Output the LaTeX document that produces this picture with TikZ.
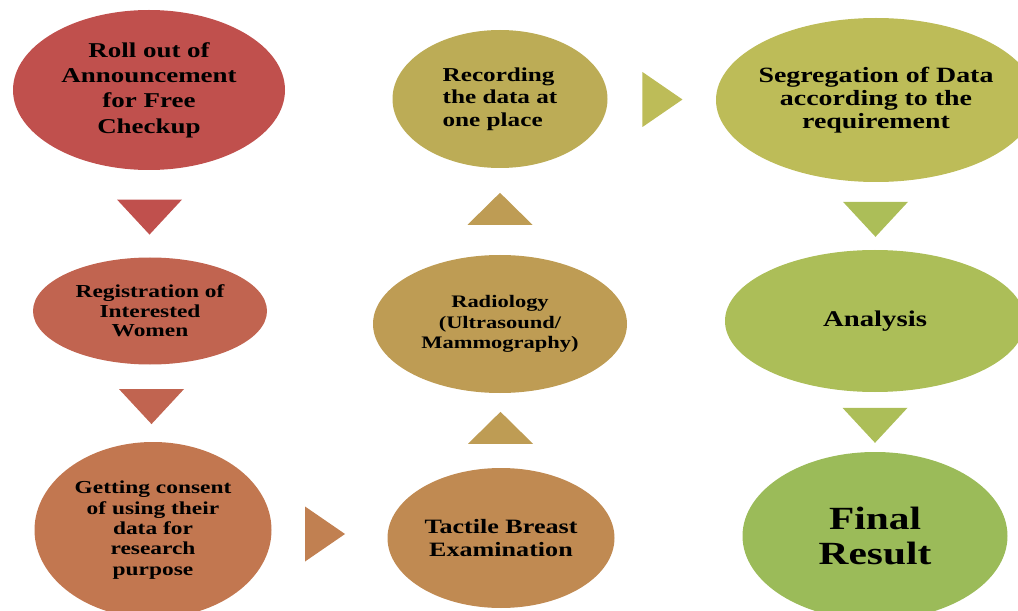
\documentclass[tikz,border=0pt]{standalone}
\usepackage{fontspec}
\setmainfont{Liberation Serif}
\newfontfamily\boxfont[FakeStretch=1.28]{Liberation Serif}
\usepackage{tikz}
\usetikzlibrary{shapes.geometric,calc}
% colour steps from red to green
\definecolor{stepA}{RGB}{192,80,77}
\definecolor{stepB}{RGB}{193,100,80}
\definecolor{stepC}{RGB}{194,119,80}
\definecolor{stepD}{RGB}{192,138,82}
\definecolor{stepE}{RGB}{190,156,84}
\definecolor{stepF}{RGB}{188,172,86}
\definecolor{stepG}{RGB}{189,188,88}
\definecolor{stepH}{RGB}{172,190,88}
\definecolor{stepI}{RGB}{155,187,89}
\tikzset{
  stepnode/.style={ellipse, align=center, text=black, inner xsep=-1.5cm, inner ysep=-0.5cm},
  chevdown/.style={isosceles triangle, isosceles triangle stretches, shape border rotate=-90,
                   inner sep=0pt, minimum width=1.625cm, minimum height=0.875cm},
  chevup/.style={chevdown, shape border rotate=90, minimum height=0.8cm},
  chevright/.style={isosceles triangle, isosceles triangle stretches, shape border rotate=0,
                    inner sep=0pt, minimum width=1.375cm, minimum height=1.0cm},
}
\newcommand{\sz}[2]{\boxfont\bfseries\fontsize{#1}{#2}\selectfont}

\begin{document}
\begin{tikzpicture}
    \useasboundingbox (0,0) rectangle (25.45,-15.275);
    % first column
    \node[stepnode, fill=stepA, minimum width=6.8cm, minimum height=4cm, font=\sz{15}{18}]
      (roll) at (3.725,-2.25) {Roll out of\\Announcement\\for Free\\Checkup};
    \node[stepnode, fill=stepB, minimum width=5.85cm, minimum height=2.675cm, font=\sz{13}{14}]
      (regist) at (3.75,-7.775) {Registration of\\Interested\\Women};
    \node[stepnode, fill=stepC, minimum width=5.925cm, minimum height=4.4cm, font=\sz{13}{14.5}]
      (consent) at (3.825,-13.25) {Getting consent\\of using their\\data for\\research\\purpose};
    % second column
    \node[stepnode, fill=stepD, minimum width=5.675cm, minimum height=3.5cm, font=\sz{14.5}{17}]
      (tactile) at (12.525,-13.45) {Tactile Breast\\Examination};
    \node[stepnode, fill=stepE, minimum width=6.35cm, minimum height=3.45cm, font=\sz{12.5}{14.6}]
      (radio) at (12.5,-8.1) {Radiology\\(Ultrasound/\\Mammography)};
    \node[stepnode, fill=stepF, minimum width=5.375cm, minimum height=3.45cm, font=\sz{14}{16}, align=left]
      (record) at (12.5,-2.475) {Recording\\the data at\\one place};
    % third column
    \node[stepnode, fill=stepG, minimum width=8cm, minimum height=4.1cm, font=\sz{15.5}{16.4}]
      (segreg) at (21.9,-2.5) {Segregation of Data\\according to the\\requirement};
    \node[stepnode, fill=stepH, minimum width=7.5cm, minimum height=3.55cm, font=\sz{16}{18}]
      (analysis) at (21.875,-8.025) {Analysis};
    \node[stepnode, fill=stepI, minimum width=6.625cm, minimum height=4.2cm, font=\sz{23}{25}]
      (final) at (21.875,-13.4) {Final\\Result};
    % chevrons between the steps
    \node[chevdown, fill=stepA] (t1) at ($(roll.south)!.5!(regist.north)$) {};
    \node[chevdown, fill=stepB] (t2) at ($(regist.south)!.5!(consent.north)$) {};
    \node[chevright, fill=stepC!50!stepD, xshift=-0.25cm] (t3) at ($(consent.east)!.5!(tactile.west)$) {};
    \node[chevup, fill=stepE] (t4) at ($(tactile.north)!.5!(radio.south)$) {};
    \node[chevup, fill=stepE] (t5) at ($(radio.north)!.5!(record.south)$) {};
    \node[chevright, fill=stepG, xshift=-0.12cm] (t6) at ($(record.east)!.5!(segreg.west)$) {};
    \node[chevdown, fill=stepH] (t7) at ($(segreg.south)!.5!(analysis.north)$) {};
    \node[chevdown, fill=stepH] (t8) at ($(analysis.south)!.5!(final.north)$) {};
  \end{tikzpicture}
\end{document}
